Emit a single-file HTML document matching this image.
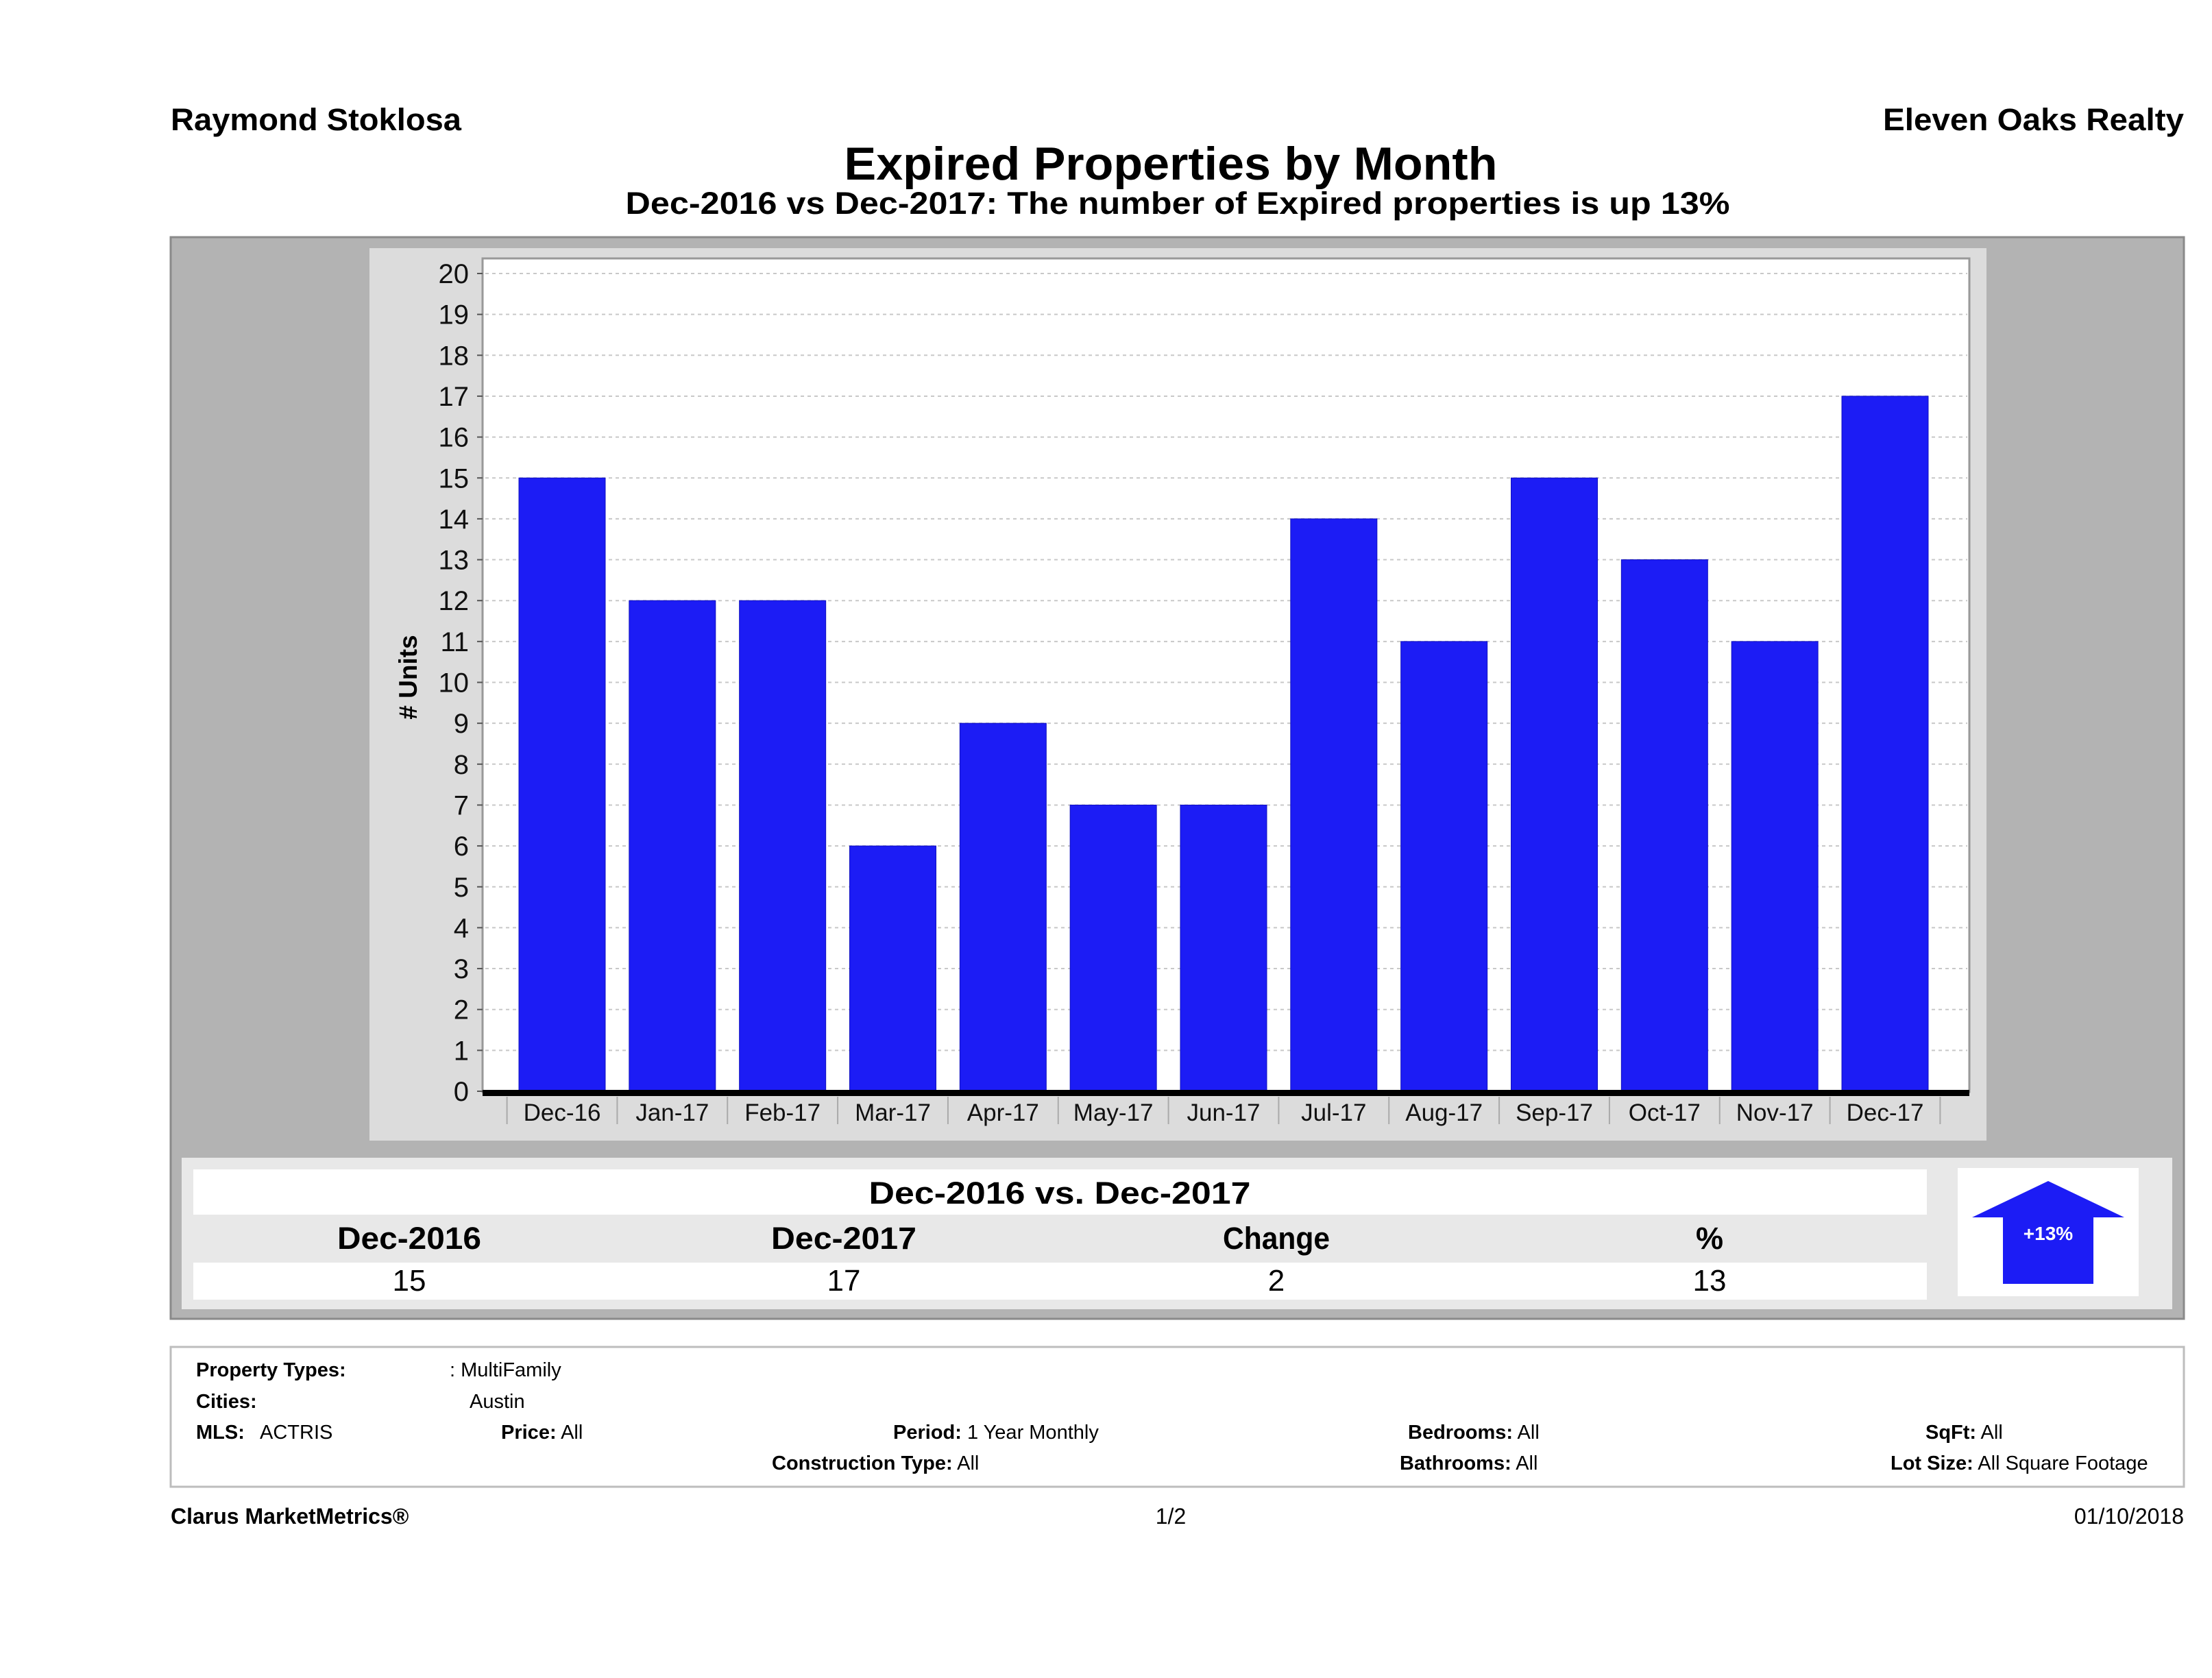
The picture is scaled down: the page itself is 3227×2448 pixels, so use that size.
<!DOCTYPE html>
<html><head><meta charset="utf-8"><style>
html,body{margin:0;padding:0;background:#fff;}
svg{display:block;font-family:"Liberation Sans","DejaVu Sans",sans-serif;}
</style></head><body>
<svg id="page" width="3227" height="2448" viewBox="0 0 3227 2448" xmlns="http://www.w3.org/2000/svg">
<rect width="3227" height="2448" fill="#fff"/>
<text x="249" y="190" font-size="45" font-weight="bold" textLength="424" lengthAdjust="spacingAndGlyphs">Raymond Stoklosa</text>
<text x="3186" y="190" font-size="45" font-weight="bold" text-anchor="end" textLength="439" lengthAdjust="spacingAndGlyphs">Eleven Oaks Realty</text>
<text x="1708" y="262" font-size="68" font-weight="bold" text-anchor="middle" textLength="953" lengthAdjust="spacingAndGlyphs">Expired Properties by Month</text>
<text x="1718" y="312" font-size="45" font-weight="bold" text-anchor="middle" textLength="1611" lengthAdjust="spacingAndGlyphs">Dec-2016 vs Dec-2017: The number of Expired  properties is up 13%</text>

<rect x="249" y="346" width="2937" height="1578" fill="#b3b3b3" stroke="#8a8a8a" stroke-width="3"/>
<rect x="539" y="362" width="2359" height="1302" fill="#dcdcdc"/>
<rect x="704" y="377" width="2169" height="1216" fill="#fff" stroke="#999" stroke-width="3"/>
<g id="grid"></g>
<g id="yticks"></g>
<g id="bars"></g>
<g id="xticks"></g>
<text x="0" y="0" font-size="37" font-weight="bold" text-anchor="middle" transform="translate(608,988) rotate(-90)"># Units</text>

<rect x="265" y="1689" width="2904" height="221" fill="#e8e8e8"/>
<rect x="282" y="1706" width="2529" height="66" fill="#fff"/>
<rect x="282" y="1842" width="2529" height="54" fill="#fff"/>
<text x="1546" y="1756" font-size="45" font-weight="bold" text-anchor="middle" textLength="557" lengthAdjust="spacingAndGlyphs">Dec-2016 vs. Dec-2017</text>
<text x="597" y="1822" font-size="45" font-weight="bold" text-anchor="middle" textLength="210" lengthAdjust="spacingAndGlyphs">Dec-2016</text>
<text x="1231" y="1822" font-size="45" font-weight="bold" text-anchor="middle" textLength="212" lengthAdjust="spacingAndGlyphs">Dec-2017</text>
<text x="1862" y="1822" font-size="45" font-weight="bold" text-anchor="middle" textLength="156" lengthAdjust="spacingAndGlyphs">Change</text>
<text x="2494" y="1822" font-size="45" font-weight="bold" text-anchor="middle">%</text>
<text x="597" y="1883" font-size="44" text-anchor="middle">15</text>
<text x="1231" y="1883" font-size="44" text-anchor="middle">17</text>
<text x="1862" y="1883" font-size="44" text-anchor="middle">2</text>
<text x="2494" y="1883" font-size="44" text-anchor="middle">13</text>
<rect x="2856" y="1704" width="264" height="187" fill="#fff"/>
<polygon points="2988,1723 3099,1776 3054,1776 3054,1873 2922,1873 2922,1776 2877,1776" fill="#1c1cf5"/>
<text x="2988" y="1809" font-size="28" font-weight="bold" fill="#fff" text-anchor="middle">+13%</text>

<rect x="249" y="1965" width="2937" height="204" fill="#fff" stroke="#bdbdbd" stroke-width="3"/>
<g font-size="29">
<text x="286" y="2008"><tspan font-weight="bold">Property Types:</tspan></text>
<text x="656" y="2008">: MultiFamily</text>
<text x="286" y="2054" font-weight="bold">Cities:</text>
<text x="685" y="2054">Austin</text>
<text x="286" y="2099"><tspan font-weight="bold">MLS:</tspan><tspan x="379">ACTRIS</tspan></text>
<text x="731" y="2099"><tspan font-weight="bold">Price:</tspan> All</text>
<text x="1303" y="2099"><tspan font-weight="bold">Period:</tspan> 1 Year Monthly</text>
<text x="2054" y="2099"><tspan font-weight="bold">Bedrooms:</tspan> All</text>
<text x="2809" y="2099"><tspan font-weight="bold">SqFt:</tspan> All</text>
<text x="1126" y="2144"><tspan font-weight="bold">Construction Type:</tspan> All</text>
<text x="2042" y="2144"><tspan font-weight="bold">Bathrooms:</tspan> All</text>
<text x="2758" y="2144"><tspan font-weight="bold">Lot Size:</tspan> All Square Footage</text>
</g>
<text x="249" y="2223" font-size="32" font-weight="bold">Clarus MarketMetrics®</text>
<text x="1708" y="2223" font-size="32" text-anchor="middle">1/2</text>
<text x="3186" y="2223" font-size="32" text-anchor="end">01/10/2018</text>
</svg>
<script>
const categories = ["Dec-16","Jan-17","Feb-17","Mar-17","Apr-17","May-17","Jun-17","Jul-17","Aug-17","Sep-17","Oct-17","Nov-17","Dec-17"];
const expiredCounts = [15,12,12,6,9,7,7,14,11,15,13,11,17];
const yTicks = [0,1,2,3,4,5,6,7,8,9,10,11,12,13,14,15,16,17,18,19,20];
const NS = "http://www.w3.org/2000/svg";
const yMin = 0, yMax = 20, py0 = 1592, py1 = 399;
const firstCenter = 820, lastCenter = 2750, barW = 126;
function yScale(v){ return py0 - (v - yMin) / (yMax - yMin) * (py0 - py1); }
function xScale(i){ return firstCenter + i * (lastCenter - firstCenter) / (categories.length - 1); }
function mk(tag, attrs, parent){ const e = document.createElementNS(NS, tag); for (const k in attrs) e.setAttribute(k, attrs[k]); parent.appendChild(e); return e; }
const grid = document.getElementById('grid'), yt = document.getElementById('yticks'), bars = document.getElementById('bars'), xt = document.getElementById('xticks');
yTicks.forEach(t => {
  const y = yScale(t);
  const g = mk('line', {x1:708, x2:2870, y1:y, y2:y, stroke:'#c8c8c8', 'stroke-width':2, 'stroke-dasharray':'5,5'}, grid);
  
  
  const tk = mk('line', {x1:696, x2:704, y1:y, y2:y, stroke:'#555', 'stroke-width':2}, yt);
  
  
  const lb = mk('text', {x:684, y:y+14, 'font-size':40, 'text-anchor':'end', fill:'#111'}, yt);
  lb.textContent = t;
  
  
});
const step = (lastCenter - firstCenter) / (categories.length - 1);
categories.forEach((c, i) => {
  const cx = xScale(i);
  const top = yScale(expiredCounts[i]);
  const r = mk('rect', {x:cx - barW/2, y:top, width:barW, height:py0 - top, fill:'#1c1cf5', stroke:'#1010c0', 'stroke-width':1}, bars);
  
  
  const d = mk('line', {x1:cx - step/2, x2:cx - step/2, y1:1600, y2:1640, stroke:'#aaa', 'stroke-width':2}, xt);
  
  
  const lb = mk('text', {x:cx, y:1635, 'font-size':35, 'text-anchor':'middle', fill:'#111'}, xt);
  lb.textContent = c;
  
  
});
const lastDiv = mk('line', {x1:xScale(categories.length-1)+step/2, x2:xScale(categories.length-1)+step/2, y1:1600, y2:1640, stroke:'#aaa', 'stroke-width':2}, xt);


const axis = mk('rect', {x:704, y:py0 - 2, width:2169, height:9, fill:'#000'}, xt);


</script>
</body></html>
